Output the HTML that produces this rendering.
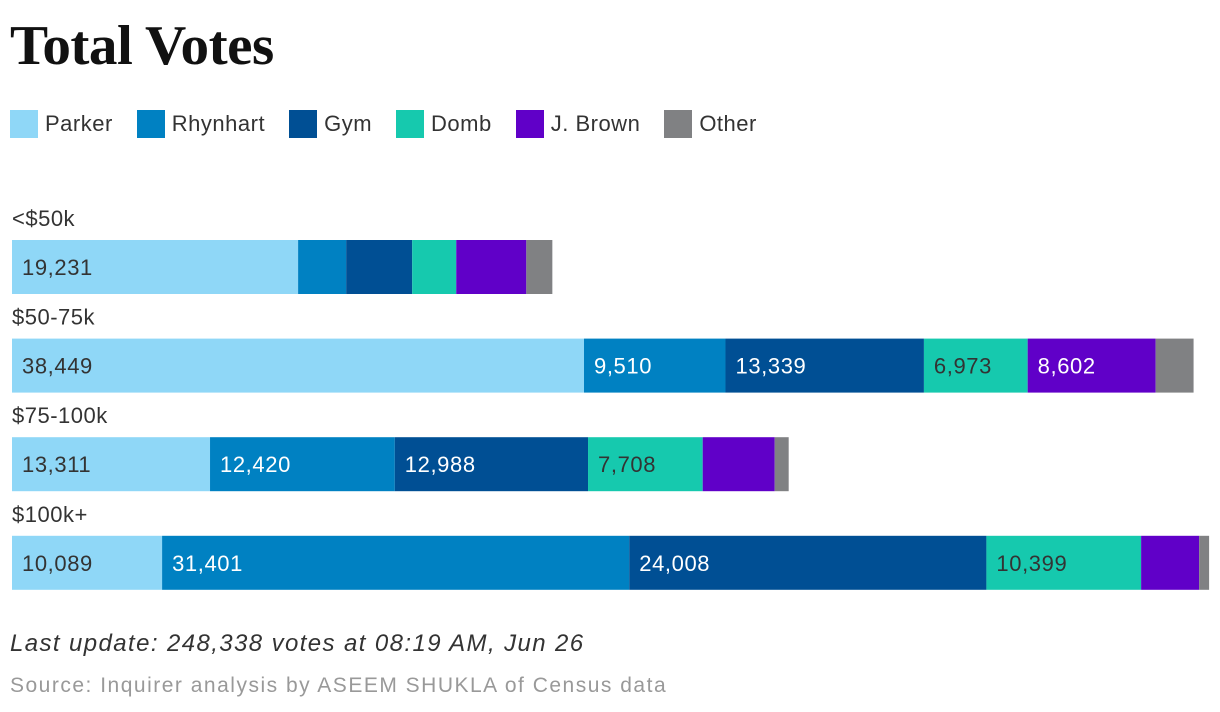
<!DOCTYPE html>
<html><head><meta charset="utf-8"><style>
body{margin:0;width:1220px;height:712px;background:#fff;font-family:"Liberation Sans",sans-serif;overflow:hidden;position:relative}
.title{position:absolute;left:10px;top:14px;font-family:"Liberation Serif",serif;font-weight:bold;font-size:56px;letter-spacing:-0.5px;color:#111;transform:scaleX(1.02);transform-origin:left}
.legend{position:absolute;left:10px;top:110px;display:flex;font-size:22px;color:#333;letter-spacing:0.5px}
.legend span.item{display:flex;align-items:center;margin-right:24px}
.legend i{display:inline-block;width:28px;height:28px;margin-right:7px}
.foot1{position:absolute;left:10px;top:630px;font-size:24px;font-style:italic;color:#333;letter-spacing:1.4px}
.foot2{position:absolute;left:10px;top:674px;font-size:21px;color:#999;letter-spacing:1.5px}
</style></head><body>
<div class="title">Total Votes</div>
<div class="legend" id="legend"></div>
<svg id="chart" width="1220" height="712" style="position:absolute;left:0;top:0"></svg>
<div class="foot1">Last update: 248,338 votes at 08:19 AM, Jun 26</div>
<div class="foot2">Source: Inquirer analysis by ASEEM SHUKLA of Census data</div>
<script>
const categories=["<$50k","$50-75k","$75-100k","$100k+"];
const seriesNames=["Parker","Rhynhart","Gym","Domb","J. Brown","Other"];
const parker=[19231,38449,13311,10089];
const rhynhart=[3230,9510,12420,31401];
const gym=[4440,13339,12988,24008];
const domb=[2960,6973,7708,10399];
const brown=[4710,8602,4840,3900];
const other=[1750,2550,940,670];
const series=[parker,rhynhart,gym,domb,brown,other];
const colors=["#8fd7f7","#0081c2","#004f94","#16c9ae","#6000c8","#808183"];
const textColors=["#333","#fff","#fff","#333","#fff","#fff"];
const NS="http://www.w3.org/2000/svg";
const svg=document.getElementById('chart');
const x=v=>v*0.014877;
const rowTop=i=>240+i*98.6;
const leg=document.getElementById('legend');
seriesNames.forEach((n,k)=>{
  const s=document.createElement('span');s.className='item';
  
  
  s.innerHTML='<i style="background:'+colors[k]+'"></i>'+n;
  leg.appendChild(s);
});
categories.forEach((c,i)=>{
  const y=rowTop(i);
  const t=document.createElementNS(NS,'text');
  t.setAttribute('x',12);t.setAttribute('y',y-14);
  t.setAttribute('font-size','22');t.setAttribute('fill','#333');
  t.setAttribute('letter-spacing','0.5');
  t.setAttribute('font-family','Liberation Sans, sans-serif');
  t.textContent=c;
  
  
  svg.appendChild(t);
  let acc=0;
  series.forEach((arr,k)=>{
    const v=arr[i];
    const r=document.createElementNS(NS,'rect');
    r.setAttribute('x',12+x(acc));r.setAttribute('y',y);
    r.setAttribute('width',x(v));r.setAttribute('height',54);
    r.setAttribute('fill',colors[k]);
    
    
    svg.appendChild(r);
    if(v>=5500){
      const l=document.createElementNS(NS,'text');
      l.setAttribute('x',12+x(acc)+10);l.setAttribute('y',y+35);
      l.setAttribute('font-size','22');l.setAttribute('fill',textColors[k]);
      l.setAttribute('letter-spacing','0.6');
      l.setAttribute('font-family','Liberation Sans, sans-serif');
      l.textContent=v.toLocaleString('en-US');
      
      
      svg.appendChild(l);
    }
    acc+=v;
  });
});
</script>
</body></html>
